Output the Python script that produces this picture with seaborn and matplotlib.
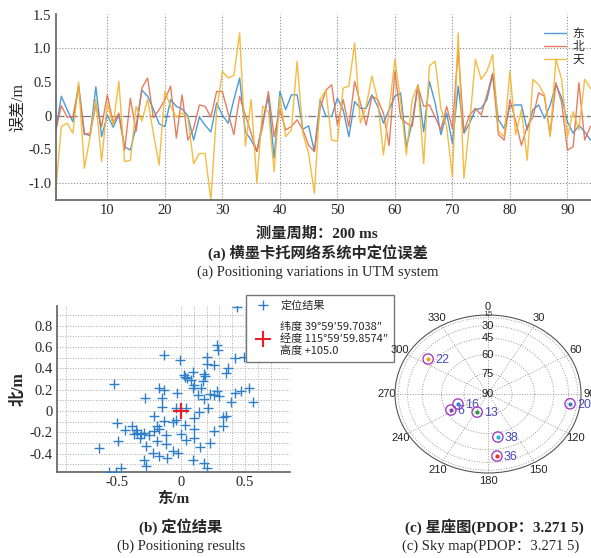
import numpy as np
import pandas as pd
import seaborn as sns
import matplotlib.pyplot as plt
from matplotlib.lines import Line2D

# ---- data ----
epoch = list(range(1, 96))
east = [-0.23, 0.29, 0.09, -0.09, 0.45, -0.26, -0.30, 0.43, -0.31, 0.01,
        -0.17, 0.01, -0.46, -0.51, -0.16, 0.38, 0.29, 0.10, -0.12, -0.16,
        0.24, 0.14, 0.10, 0.00, -0.36, -0.02, -0.14, -0.24, 0.19, 0.01,
        -0.11, 0.24, 0.56, -0.24, -0.36, -0.53, -0.08, 0.29, -0.63, 0.36,
        0.09, 0.31, 0.31, -0.20, -0.15, -0.53, 0.24, -0.01, -0.01, 0.26,
        0.09, -0.31, 0.21, 0.11, 0.11, 0.31, 0.14, -0.11, 0.09, 0.29,
        0.34, -0.46, -0.10, 0.46, -0.24, 0.51, 0.19, -0.28, 0.04, -0.41,
        0.44, -0.26, -0.11, 0.09, 0.11, 0.24, 0.61, -0.06, -0.19, 0.14,
        0.16, 0.16, -0.21, 0.09, 0.16, -0.04, 0.16, 0.46, 0.27, -0.09,
        -0.26, -0.14, -0.24, -0.36, -0.30]
north = [-0.23, 0.15, -0.02, -0.02, 0.43, -0.28, -0.26, 0.16, -0.16, 0.31,
         -0.11, 0.04, -0.51, 0.26, -0.23, 0.41, 0.56, -0.03, 0.09, 0.24,
         0.44, -0.33, 0.31, -0.36, -0.19, 0.16, 0.14, -0.02, 0.36, 0.36,
         0.04, -0.28, 0.29, 0.01, -0.26, -0.53, -0.16, 0.36, -0.31, 0.09,
         -0.21, -0.16, -0.06, -0.21, -0.44, -0.53, 0.11, 0.38, 0.46, -0.14,
         0.24, -0.16, 0.51, 0.19, -0.14, 0.29, 0.24, 0.04, -0.44, 0.66,
         -0.03, -0.11, -0.16, 0.44, 0.14, 0.16, -0.02, -0.21, 0.14, -0.19,
         0.99, -0.23, 0.01, 0.11, 0.01, 0.31, 0.63, -0.28, -0.36, 0.24,
         -0.08, -0.44, -0.16, -0.02, 0.34, 0.29, -0.28, 0.49, 0.19, -0.51,
         -0.46, 0.49, -0.36, -0.16, -0.10]
up = [-1.13, -0.16, -0.11, -0.26, 0.50, -0.78, -0.31, 0.24, -0.68, 0.19,
      -0.14, 0.51, -0.68, -0.66, 0.14, -0.08, 0.24, -0.26, -0.73, 0.36,
      0.14, -0.02, 0.04, -0.02, -0.71, -0.56, -0.56, -1.25, 0.06, 0.66,
      0.56, 0.60, 1.23, -0.45, 0.24, -1.00, 0.14, 0.06, -0.83, 0.29,
      -0.31, -0.21, 0.81, -0.26, -0.56, -1.15, 0.24, 0.38, -0.36, -0.38,
      0.41, 0.44, 1.08, -0.11, 0.14, 0.59, 0.24, -0.58, 0.09, 0.84,
      0.21, -0.58, 0.24, 0.46, -0.71, 0.74, 0.81, 0.11, -0.16, -0.91,
      1.23, -0.93, -0.11, 0.84, 0.54, 0.66, 0.91, -0.23, -0.31, 0.66,
      -0.28, 0.09, -0.66, 0.54, 0.46, 0.31, -0.31, 0.84, 0.54, -0.31,
      0.06, -0.21, 0.54, 0.41, 0.30]

fix_e = [0.44, 0.28, 0.29, -0.13, -0.01, 0.20, 0.42, 0.49, 0.20, 0.26,
         0.37, 0.35, 0.02, 0.03, 0.09, 0.18, 0.19, 0.05, 0.08, 0.17,
         -0.52, -0.17, -0.13, 0.09, 0.16, 0.10, 0.28, 0.47, 0.53, 0.42,
         -0.03, 0.13, 0.23, 0.26, 0.30, 0.18, -0.28, -0.15, 0.39, 0.56,
         -0.15, -0.04, 0.04, 0.21, 0.14, -0.21, 0.33, 0.35, -0.50, -0.13,
         -0.06, -0.04, 0.03, 0.10, 0.33, -0.38, -0.35, -0.44, -0.19, -0.17,
         -0.21, -0.37, -0.34, -0.29, -0.25, -0.31, 0.00, 0.10, 0.26, -0.49,
         -0.32, -0.12, 0.04, 0.10, -0.19, 0.23, -0.27, -0.12, 0.15, -0.64,
         -0.06, -0.02, -0.22, -0.17, -0.11, -0.29, 0.09, 0.18, -0.27, 0.20,
         -0.47, -0.56, -0.51]
fix_n = [0.98, 0.62, 0.57, 0.53, 0.48, 0.51, 0.50, 0.51, 0.44, 0.43,
         0.40, 0.36, 0.34, 0.32, 0.37, 0.35, 0.33, 0.31, 0.29, 0.28,
         0.25, 0.22, 0.20, 0.22, 0.22, 0.24, 0.19, 0.19, 0.22, 0.17,
         0.17, 0.15, 0.16, 0.15, 0.14, 0.11, 0.12, 0.12, 0.08, 0.08,
         0.04, 0.03, 0.03, 0.03, -0.01, -0.05, -0.06, -0.05, -0.11, -0.09,
         -0.10, -0.08, -0.13, -0.07, -0.14, -0.14, -0.18, -0.18, -0.14, -0.17,
         -0.19, -0.22, -0.21, -0.21, -0.23, -0.22, -0.22, -0.17, -0.19, -0.28,
         -0.25, -0.23, -0.27, -0.25, -0.28, -0.30, -0.33, -0.31, -0.34, -0.35,
         -0.38, -0.39, -0.39, -0.42, -0.44, -0.46, -0.46, -0.49, -0.52, -0.54,
         -0.54, -0.57, -0.57]
ref_point = (0.0, 0.0)

sat_prn = ['22', '16', '6', '13', '20', '38', '36']
sat_az = [304.5, 248.5, 243.0, 207.0, 98.0, 169.0, 173.0]
sat_el = [38.6, 69.7, 63.4, 75.1, 27.0, 56.3, 37.7]
sat_dot = ['#f0a020', '#2f7fd0', '#8a3fb0', '#2a9a3a', '#2f7fd0', '#20b8d8', '#e83020']

series_colors = {'东': '#3c8fd4', '北': '#e4704f', '天': '#f2b630'}

sns.set_theme(style="white")
plt.rcParams['font.family'] = ['Liberation Serif', 'Noto Sans CJK SC']
plt.rcParams['axes.unicode_minus'] = False
plt.rcParams['xtick.direction'] = 'in'
plt.rcParams['ytick.direction'] = 'in'

W, H = 591, 558
fig = plt.figure(figsize=(W / 100, H / 100), dpi=100)


def box(x0, y0, x1, y1):
    # pixel box (top-left origin) -> figure rect
    return [x0 / W, 1 - y1 / H, (x1 - x0) / W, (y1 - y0) / H]


def ftext(px, py, s, **kw):
    fig.text(px / W, 1 - py / H, s, va='center', **kw)


# ---- (a) time series ----
ax1 = fig.add_axes(box(55.6, 14, 591, 200))
df = pd.DataFrame({'epoch': epoch, '东': east, '北': north, '天': up})
long = df.melt('epoch', var_name='dir', value_name='err')
sns.lineplot(data=long, x='epoch', y='err', hue='dir', palette=series_colors,
             linewidth=1.0, alpha=0.9, ax=ax1)
ax1.set_xlim(1, 94.1)
ax1.set_ylim(-1.25, 1.51)
xt = list(range(10, 100, 10))
ax1.set_xticks(xt)
ax1.set_xticklabels([str(v) for v in xt], fontsize=10.5)
yt = [-1.0, -0.5, 0, 0.5, 1.0, 1.5]
ax1.set_yticks(yt)
ax1.set_yticklabels(['-1.0', '-0.5', '0', '0.5', '1.0', '1.5'], fontsize=10.5)
for v in xt:
    ax1.axvline(v, color='#888888', lw=0.8, ls=':', zorder=0)
for v in (-1.0, 1.0):
    ax1.axhline(v, color='#888888', lw=0.8, ls=':', zorder=0)
ax1.axhline(0, color='#777777', lw=0.9, ls='-.', zorder=0)
ax1.set_xlabel('')
ax1.set_ylabel('误差/m', fontsize=11.5, labelpad=2)
for s in ('top', 'right'):
    ax1.spines[s].set_visible(False)
for s in ('left', 'bottom'):
    ax1.spines[s].set_color('#666666')
ax1.tick_params(length=3, color='#666666', pad=3)
h, l = ax1.get_legend_handles_labels()
ax1.legend(h, l, loc='upper right', bbox_to_anchor=(1.0, 0.97), frameon=False,
           handlelength=1.9, handletextpad=0.5, labelspacing=0.0,
           borderaxespad=0.2, prop={'family': ['Noto Sans CJK SC'], 'size': 8.5})

ftext(317, 234, '测量周期：200 ms', ha='center', fontsize=11, fontweight='bold')
ftext(318, 253, '(a) 横墨卡托网络系统中定位误差', ha='center', fontsize=11, fontweight='bold')
ftext(318, 272, '(a) Positioning variations in UTM system', ha='center', fontsize=10.5)

# ---- (b) positioning results ----
ax2 = fig.add_axes(box(57, 306, 290, 472))
for v in [-0.9, 0.0, 0.1, 0.2, 0.3, 0.4, 0.5, 0.6, 0.7]:
    ax2.axvline(v, color='#aaaaaa', lw=0.7, ls=':', zorder=0)
for v in np.arange(-0.5, 0.95, 0.1):
    ax2.axhline(v, color='#aaaaaa', lw=0.7, ls=':', zorder=0)
pts = pd.DataFrame({'东': fix_e, '北': fix_n})
sns.scatterplot(data=pts, x='东', y='北', marker='+', s=45, linewidth=1.0,
                color='#2f7fc8', ax=ax2, zorder=3)
sns.scatterplot(x=[ref_point[0]], y=[ref_point[1]], marker='+', s=140,
                linewidth=1.6, color='#ee1c25', ax=ax2, zorder=4)
ax2.set_xlim(-0.969, 0.852)
ax2.set_ylim(-0.573, 0.986)
ax2.set_xticks([-0.5, 0, 0.5])
ax2.set_xticklabels(['-0.5', '0', '0.5'], fontsize=10.5)
ax2.set_yticks([-0.4, -0.2, 0, 0.2, 0.4, 0.6, 0.8])
ax2.set_yticklabels(['-0.4', '-0.2', '0', '0.2', '0.4', '0.6', '0.8'], fontsize=10.5)
ax2.set_xlabel('东/m', fontsize=11, fontweight='bold', labelpad=2)
ax2.set_ylabel('北/m', fontsize=11.5, fontweight='bold', labelpad=2)
for s in ('top', 'right'):
    ax2.spines[s].set_visible(False)
for s in ('left', 'bottom'):
    ax2.spines[s].set_color('#666666')
ax2.tick_params(length=3, color='#666666', pad=3)
leg_h = [Line2D([], [], ls='', marker='+', ms=7, mew=1.0, color='#2f7fc8'),
         Line2D([], [], ls='', marker='+', ms=11, mew=1.5, color='#ee1c25')]
leg_l = ['定位结果', '纬度 39°59′59.7038″\n经度 115°59′59.8574″\n高度 +105.0']
leg = ax2.legend(leg_h, leg_l, loc='lower left',
                 bbox_to_anchor=(246 / W, 1 - 362 / H), bbox_transform=fig.transFigure,
                 borderaxespad=0, fancybox=False, framealpha=1, edgecolor='#777777',
                 handletextpad=0.6, labelspacing=1.0, borderpad=0.5,
                 prop={'family': ['Noto Sans CJK SC'], 'size': 8})
leg.get_frame().set_linewidth(1.0)

ftext(181, 527, '(b) 定位结果', ha='center', fontsize=11, fontweight='bold')
ftext(181, 546, '(b) Positioning results', ha='center', fontsize=10.5)

# ---- (c) sky map ----
ax3 = fig.add_axes(box(395, 315, 581, 473), projection='polar')
ax3.set_aspect('auto')
ax3.set_theta_zero_location('N')
ax3.set_theta_direction(-1)
ax3.set_ylim(0, 1)
ring_el = [75, 60, 45, 30, 15]
ax3.set_rgrids(np.cos(np.radians(ring_el)), labels=[''] * len(ring_el))
ang = list(range(0, 360, 30))
ax3.set_thetagrids(ang, labels=[str(a) for a in ang],
                   fontsize=8, family='Liberation Sans', color='#222222')
ax3.tick_params(axis='x', pad=-1)
ax3.grid(True, color='#999999', lw=0.7, ls=':')
ax3.spines['polar'].set_color('#555555')
ax3.spines['polar'].set_linewidth(0.8)
for e in [90, 75, 60, 45, 30]:
    ax3.text(0, np.cos(np.radians(e)), str(e), ha='center', va='center',
             fontsize=8, family='Liberation Sans', color='#222222')
ax3.text(0, 1.0, '15', ha='center', va='center', fontsize=6,
         family='Liberation Sans', color='#444444')
sky = pd.DataFrame({'theta': np.radians(sat_az), 'r': np.cos(np.radians(sat_el))})
sns.scatterplot(data=sky, x='theta', y='r', marker='o', s=55, facecolor='none',
                edgecolor='#a040c0', linewidth=1.0, ax=ax3, zorder=4)
for i in range(len(sat_prn)):
    ax3.scatter(sky['theta'][i], sky['r'][i], s=4, color=sat_dot[i], zorder=5)
    ax3.annotate(sat_prn[i], (sky['theta'][i], sky['r'][i]), xytext=(5, -1),
                 textcoords='offset points', va='center', ha='left', fontsize=9,
                 family='Liberation Sans', color='#4a4ab4')
ax3.set_xlabel('')
ax3.set_ylabel('')

ftext(405, 527, '(c) 星座图(PDOP：3.271 5)', ha='left', fontsize=11, fontweight='bold')
ftext(402, 546, '(c) Sky map(PDOP：3.271 5)', ha='left', fontsize=10.5)

fig.savefig('out.png', dpi=100)
